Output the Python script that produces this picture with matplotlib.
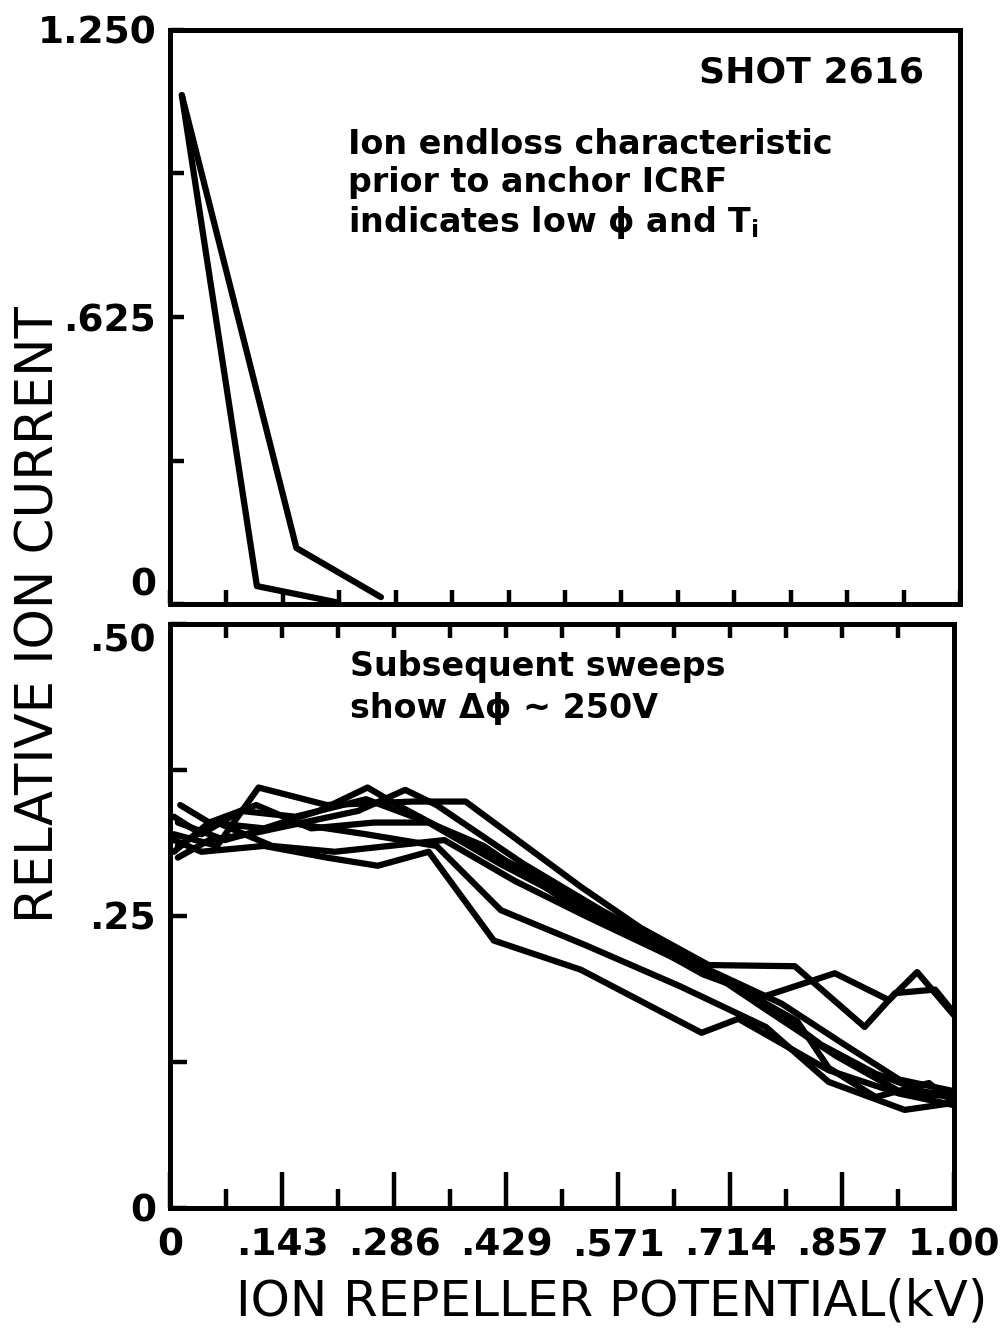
import matplotlib.pyplot as plt
from matplotlib.ticker import FixedLocator

# top panel: sweep before anchor ICRF
top_x1 = [0.015, 0.11, 0.21]
top_y1 = [1.108, 0.039, 0.004]
top_x2 = [0.015, 0.16, 0.267]
top_y2 = [1.108, 0.122, 0.015]

# bottom panel: subsequent sweeps
sweeps_x = [
    [0.005, 0.04, 0.12, 0.20, 0.265, 0.33, 0.413, 0.524, 0.678, 0.725, 0.84, 0.93, 1.0],
    [0.01, 0.07, 0.15, 0.25, 0.34, 0.422, 0.53, 0.65, 0.76, 0.84, 0.937, 1.0],
    [0.005, 0.06, 0.113, 0.20, 0.31, 0.377, 0.524, 0.60, 0.687, 0.797, 0.886, 0.925, 0.976, 1.0],
    [0.013, 0.05, 0.12, 0.19, 0.252, 0.29, 0.36, 0.45, 0.56, 0.68, 0.757, 0.848, 0.917, 0.953, 1.0],
    [0.01, 0.05, 0.10, 0.17, 0.24, 0.30, 0.34, 0.45, 0.55, 0.66, 0.76, 0.85, 0.93, 1.0],
    [0.005, 0.04, 0.09, 0.16, 0.25, 0.33, 0.42, 0.52, 0.62, 0.72, 0.80, 0.84, 0.90, 0.968, 1.0],
    [0.01, 0.06, 0.13, 0.21, 0.28, 0.35, 0.44, 0.53, 0.64, 0.75, 0.83, 0.90, 0.96, 1.0],
    [0.005, 0.05, 0.11, 0.18, 0.26, 0.33, 0.40, 0.50, 0.60, 0.70, 0.78, 0.86, 0.93, 1.0],
]
sweeps_y = [
    [0.315, 0.305, 0.31, 0.30, 0.293, 0.305, 0.229, 0.204, 0.150, 0.162, 0.118, 0.098, 0.088],
    [0.33, 0.315, 0.33, 0.32, 0.31, 0.255, 0.225, 0.19, 0.155, 0.108, 0.084, 0.09],
    [0.32, 0.31, 0.36, 0.345, 0.348, 0.348, 0.275, 0.24, 0.208, 0.207, 0.155, 0.184, 0.187, 0.167],
    [0.345, 0.33, 0.325, 0.34, 0.36, 0.345, 0.32, 0.29, 0.245, 0.20, 0.181, 0.201, 0.178, 0.202, 0.165],
    [0.30, 0.315, 0.32, 0.33, 0.34, 0.358, 0.345, 0.295, 0.255, 0.215, 0.17, 0.13, 0.10, 0.095],
    [0.335, 0.32, 0.34, 0.335, 0.35, 0.33, 0.295, 0.26, 0.225, 0.19, 0.16, 0.12, 0.095, 0.107, 0.09],
    [0.31, 0.33, 0.31, 0.305, 0.31, 0.315, 0.28, 0.25, 0.215, 0.18, 0.14, 0.115, 0.10, 0.095],
    [0.305, 0.33, 0.345, 0.325, 0.33, 0.33, 0.31, 0.265, 0.23, 0.20, 0.175, 0.14, 0.11, 0.10],
]

x_major = [i / 7 for i in range(8)]
x_minor = [(i + 0.5) / 7 for i in range(7)]
x_all = [i / 14 for i in range(1, 14)]
x_labels = ["0", ".143", ".286", ".429", ".571", ".714", ".857", "1.00"]

top_yticks = [0, 0.625, 1.25]
top_yminor = [0.3125, 0.9375]
top_ylabels = ["0", ".625", "1.250"]
bot_yticks = [0, 0.25, 0.5]
bot_yminor = [0.125, 0.375]
bot_ylabels = ["0", ".25", ".50"]

plt.rcParams['font.family'] = ['DejaVu Sans']
lw = 4.5

fig = plt.figure(figsize=(10.08, 13.34), dpi=100)
ax1 = fig.add_axes([170 / 1008, 1 - 604 / 1334, 790 / 1008, 574 / 1334])
ax2 = fig.add_axes([170 / 1008, 1 - 1208 / 1334, 784 / 1008, 584 / 1334])

ax1.plot(top_x1, top_y1, color='black', lw=lw, solid_joinstyle='round', solid_capstyle='round')
ax1.plot(top_x2, top_y2, color='black', lw=lw, solid_joinstyle='round', solid_capstyle='round')
for xs, ys in zip(sweeps_x, sweeps_y):
    ax2.plot(xs, ys, color='black', lw=lw, solid_joinstyle='round', solid_capstyle='round')

ax1.set_xlim(0, 1)
ax1.set_ylim(0, 1.25)
ax2.set_xlim(0, 1)
ax2.set_ylim(0, 0.5)

for ax in (ax1, ax2):
    for s in ax.spines.values():
        s.set_linewidth(3.6)
    ax.tick_params(which='both', direction='in', width=3.2, colors='black',
                   labelsize=27, pad=10)

# top panel ticks
ax1.xaxis.set_major_locator(FixedLocator(x_major))
ax1.xaxis.set_minor_locator(FixedLocator(x_minor))
ax1.tick_params(axis='x', which='both', length=10, labelbottom=False)
ax1.yaxis.set_major_locator(FixedLocator(top_yticks))
ax1.yaxis.set_minor_locator(FixedLocator(top_yminor))
ax1.set_yticklabels(top_ylabels, fontweight='bold')
ax1.tick_params(axis='y', which='both', length=10)
ax1.get_yticklabels()[0].set_va('bottom')

# bottom panel ticks
ax2.xaxis.set_major_locator(FixedLocator(x_major))
ax2.xaxis.set_minor_locator(FixedLocator(x_minor))
ax2.set_xticklabels(x_labels, fontweight='bold')
ax2.tick_params(axis='x', which='major', length=26, pad=14)
ax2.tick_params(axis='x', which='minor', length=14)
ax2.yaxis.set_major_locator(FixedLocator(bot_yticks))
ax2.yaxis.set_minor_locator(FixedLocator(bot_yminor))
ax2.set_yticklabels(bot_ylabels, fontweight='bold')
ax2.tick_params(axis='y', which='both', length=12)
ax2.get_yticklabels()[-1].set_va('top')

top2 = ax2.secondary_xaxis('top')
top2.set_xticks(x_all)
top2.tick_params(direction='in', length=10, width=3.2, labeltop=False)
top2.spines['top'].set_linewidth(3.6)

# text
ax1.text(0.955, 0.955, "SHOT 2616", transform=ax1.transAxes, ha='right', va='top',
         fontsize=26, fontweight='bold')
ax1.text(0.225, 0.83, "Ion endloss characteristic\nprior to anchor ICRF\nindicates low ϕ and T$_\\mathbf{i}$",
         transform=ax1.transAxes, ha='left', va='top', fontsize=24, fontweight='bold',
         linespacing=1.2)
ax2.text(0.23, 0.955, "Subsequent sweeps\nshow Δϕ ~ 250V", transform=ax2.transAxes,
         ha='left', va='top', fontsize=24, fontweight='bold', linespacing=1.35)

fig.text(40 / 1008, 1 - 615 / 1334, "RELATIVE ION CURRENT", rotation=90,
         ha='center', va='center', fontsize=37)
fig.text(612 / 1008, 1 - 1302 / 1334, "ION REPELLER POTENTIAL(kV)",
         ha='center', va='center', fontsize=36)

fig.savefig("out.png", dpi=100)
